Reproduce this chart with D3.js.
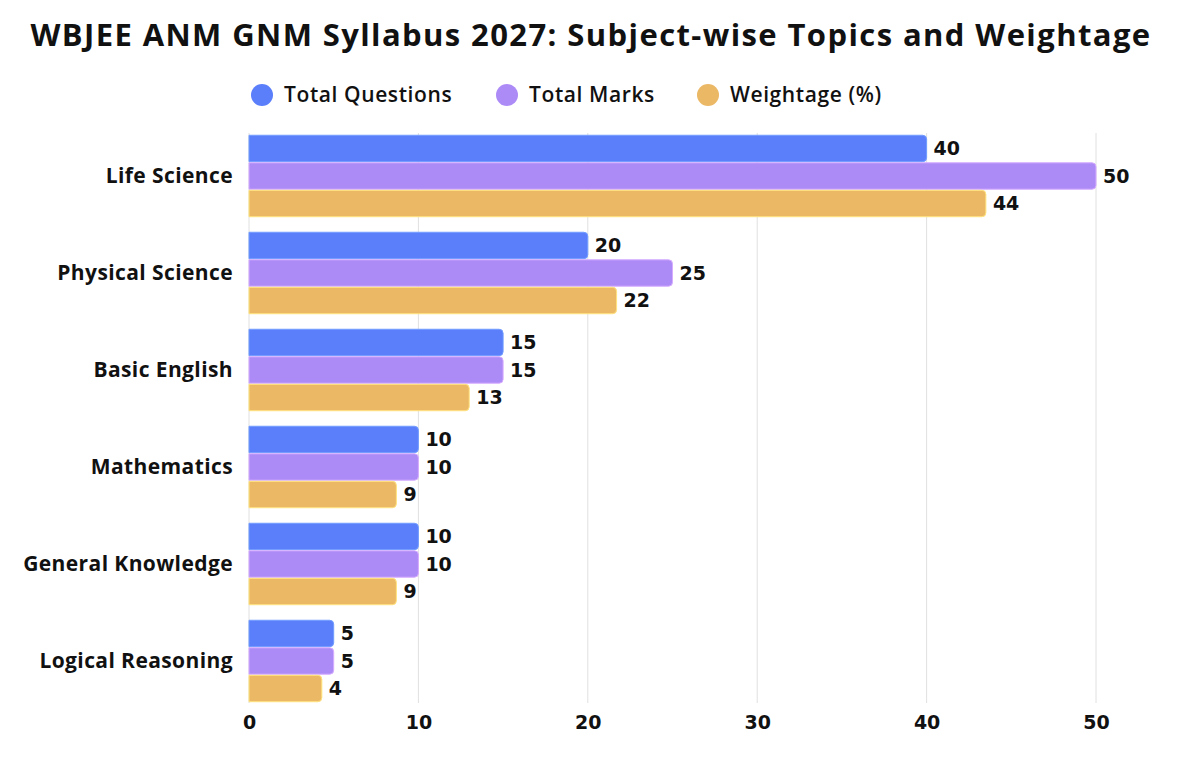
<!DOCTYPE html>
<html>
<head>
<meta charset="utf-8">
<script src="https://cdn.jsdelivr.net/npm/d3@7"></script>
<style>
  body { margin: 0; background: #fff; }
  text { font-family: "Open Sans", sans-serif; }
  .num { font-family: "DejaVu Sans", sans-serif; }
</style>
</head>
<body>
<svg id="chart"></svg>
<script>
const width = 1200;
const height = 757;

// data
const subjects = ["Life Science", "Physical Science", "Basic English", "Mathematics", "General Knowledge", "Logical Reasoning"];
const seriesNames = ["Total Questions", "Total Marks", "Weightage (%)"];
const totalQuestions = [40, 20, 15, 10, 10, 5];
const totalMarks = [50, 25, 15, 10, 10, 5];
const weightage = [43.5, 21.7, 13.0, 8.7, 8.7, 4.3];
const xTicks = [0, 10, 20, 30, 40, 50];
const colors = ["#5b7ffb", "#ad8bf7", "#ebb866"];

const series = [totalQuestions, totalMarks, weightage];

let svg = d3.select("#chart").attr("width", width).attr("height", height);

// title
svg.append("text")
    .attr("x", 591).attr("y", 46)
    .attr("text-anchor", "middle")
    .attr("font-size", 31).attr("font-weight", 700)
    .attr("letter-spacing", 1.4)
    .attr("fill", "#111")
    .text("WBJEE ANM GNM Syllabus 2027: Subject-wise Topics and Weightage");

// legend
const legendX = [262, 507, 708];
let legend = svg.append("g").selectAll("g")
    .data(seriesNames)
    .join("g")
    .attr("transform", (d, i) => `translate(${legendX[i]},95)`);
legend.append("circle").attr("r", 11).attr("fill", (d, i) => colors[i]);
legend.append("text")
    .attr("x", 22).attr("dy", "0.35em")
    .attr("font-size", 21).attr("font-weight", 600)
    .attr("letter-spacing", 0.6)
    .attr("fill", "#111")
    .text(d => d);

let xScale = d3.scaleLinear().domain([0, 50]).range([249, 1096]);
let yScale = d3.scaleBand().domain(subjects).range([127.5, 709.5]).paddingInner(0.16).paddingOuter(0.08);
let inner = d3.scaleBand().domain(d3.range(3)).range([0, yScale.bandwidth()]).paddingInner(0.04);

// grid lines
svg.append("g").selectAll("line")
    .data(xTicks)
    .join("line")
    .attr("x1", d => xScale(d)).attr("x2", d => xScale(d))
    .attr("y1", 133).attr("y2", 703)
    .attr("stroke", "#e0e0e0").attr("stroke-width", 1);

// x axis labels
let xAxis = d3.axisBottom(xScale).tickValues(xTicks).tickSize(0).tickPadding(0);
let gx = svg.append("g").attr("transform", "translate(0,712)").call(xAxis);
gx.select(".domain").remove();
gx.selectAll("text")
    .attr("class", "num")
    .attr("dy", "0.9em")
    .attr("font-size", 19).attr("font-weight", 700)
    .attr("fill", "#111");

// y axis labels
let yAxis = d3.axisLeft(yScale).tickSize(0).tickPadding(16);
let gy = svg.append("g").attr("transform", "translate(249,0)").call(yAxis);
gy.select(".domain").remove();
gy.selectAll("text")
    .attr("font-size", 21).attr("font-weight", 700)
    .attr("letter-spacing", 0.4)
    .attr("fill", "#111");

// bars
let groups = svg.append("g").selectAll("g")
    .data(subjects)
    .join("g")
    .attr("transform", d => `translate(0,${yScale(d)})`);

groups.each(function(subj, si) {
    let g = d3.select(this);
    series.forEach((vals, k) => {
        let v = vals[si];
        let x0 = xScale(0), x1 = xScale(v);
        let y0 = inner(k), h = inner.bandwidth(), r = 4;
        let p = d3.path();
        p.moveTo(x0, y0);
        p.lineTo(x1 - r, y0);
        p.quadraticCurveTo(x1, y0, x1, y0 + r);
        p.lineTo(x1, y0 + h - r);
        p.quadraticCurveTo(x1, y0 + h, x1 - r, y0 + h);
        p.lineTo(x0, y0 + h);
        p.closePath();
        g.append("path")
            .attr("d", p.toString())
            .attr("fill", colors[k])
            .attr("stroke", d3.color(colors[k]).brighter(0.6))
            .attr("stroke-width", 1);
        g.append("text")
            .attr("class", "num")
            .attr("x", x1 + 7)
            .attr("y", y0 + h / 2)
            .attr("dy", "0.36em")
            .attr("font-size", 19).attr("font-weight", 700)
            .attr("fill", "#111")
            .text(d3.format(".0f")(v));
    });
});
</script>
</body>
</html>
